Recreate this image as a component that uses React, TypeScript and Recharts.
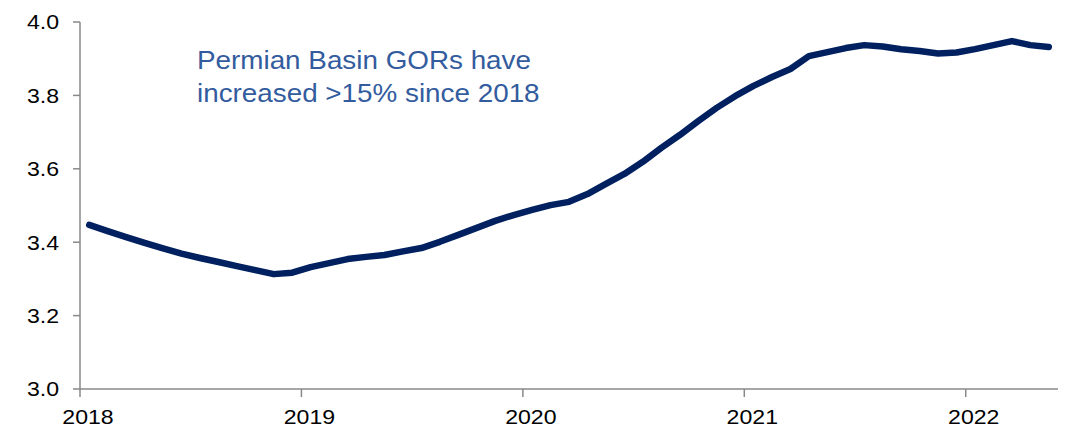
import { LineChart, Line, XAxis, YAxis } from "recharts";

// Permian Basin gas-oil ratio, monthly Jan 2018 - May 2022
const START_YEAR = 2018;
const YEAR_LABELS = ["2018", "2019", "2020", "2021", "2022"];
const Y_TICKS = [3.0, 3.2, 3.4, 3.6, 3.8, 4.0];

const GOR = [
  3.447, 3.43, 3.414, 3.398, 3.383, 3.369, 3.357, 3.346, 3.335, 3.324, 3.313, 3.317,
  3.332, 3.343, 3.354, 3.36, 3.365, 3.375, 3.384, 3.401, 3.42, 3.439, 3.458, 3.474,
  3.488, 3.501, 3.51, 3.531, 3.559, 3.586, 3.619, 3.657, 3.692, 3.73, 3.766, 3.798,
  3.826, 3.85, 3.872, 3.907, 3.918, 3.929, 3.937, 3.933, 3.926, 3.921, 3.914, 3.917,
  3.926, 3.937, 3.948, 3.937, 3.932,
];

const MONTHS = GOR.map(
  (_, i) => `${START_YEAR + Math.floor(i / 12)}-${String((i % 12) + 1).padStart(2, "0")}`
);

// each month sits in the middle of its slot, year ticks on slot edges
const data = GOR.map((gor, i) => ({ x: i + 0.5, month: MONTHS[i], gor }));
const yearTicks = YEAR_LABELS.map((_, i) => i * 12);

const AXIS = "#898989";
const FONT = "'Liberation Sans', Arial, sans-serif";

const XTick = ({ x, y, payload }: any) => {
  const label = YEAR_LABELS[Math.round(payload.value / 12)];
  return (
    <text
      transform={`translate(${x + 8},${y}) scale(1.1,1)`}
      textAnchor="middle"
      dy="0.71em"
      fontSize={21}
      fontFamily={FONT}
      fill="#000"
    >
      {label}
    </text>
  );
};

const YTick = ({ x, y, payload }: any) => (
  <text
    transform={`translate(${x},${y}) scale(1.1,1)`}
    textAnchor="end"
    dy="0.355em"
    fontSize={21}
    fontFamily={FONT}
    fill="#000"
  >
    {Number(payload.value).toFixed(1)}
  </text>
);

export default function App() {
  return (
    <div style={{ position: "relative", width: 1066, height: 429, background: "#fff" }}>
      <style>{`body{margin:0}`}</style>
      <LineChart
        width={1066}
        height={429}
        data={data}
        margin={{ top: 22, right: 8, bottom: 0, left: 0 }}
      >
        <XAxis
          dataKey="x"
          type="number"
          domain={[0, GOR.length]}
          ticks={yearTicks}
          height={40}
          tickSize={8}
          tickMargin={12}
          axisLine={{ stroke: AXIS, strokeWidth: 1.5 }}
          tickLine={{ stroke: AXIS, strokeWidth: 1.5 }}
          tick={<XTick />}
        />
        <YAxis
          type="number"
          domain={[3, 4]}
          ticks={Y_TICKS}
          width={80}
          tickSize={7}
          tickMargin={14}
          axisLine={{ stroke: AXIS, strokeWidth: 1.5 }}
          tickLine={{ stroke: AXIS, strokeWidth: 1.5 }}
          tick={<YTick />}
        />
        <Line
          type="linear"
          dataKey="gor"
          stroke="#002060"
          strokeWidth={6.5}
          strokeLinecap="round"
          strokeLinejoin="round"
          dot={false}
          activeDot={false}
          isAnimationActive={false}
        />
      </LineChart>
      <div
        style={{
          position: "absolute",
          left: 197,
          top: 44,
          fontFamily: FONT,
          fontSize: 26,
          lineHeight: "33px",
          color: "#335C9E",
          whiteSpace: "nowrap",
          transform: "scaleX(1.07)",
          transformOrigin: "left top",
        }}
      >
        Permian Basin GORs have
        <br />
        increased &gt;15% since 2018
      </div>
    </div>
  );
}
